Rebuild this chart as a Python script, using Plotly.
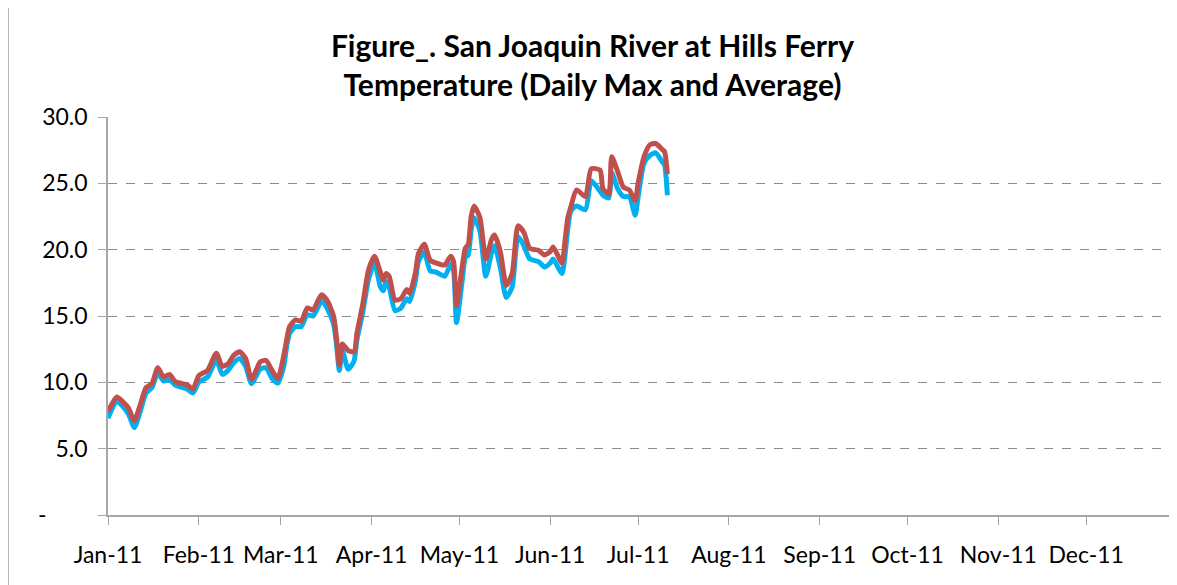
import plotly.graph_objects as go
import datetime as dt

# Day offsets from 2011-01-01, with values (deg C)
max_days = [0, 3, 5, 7, 9, 11, 13, 15, 17, 19, 21, 23, 27, 29, 31, 34, 37, 39, 41, 43, 45, 47, 49, 52, 54, 56, 58,
            60, 61, 62, 64, 66, 68, 70, 72, 73, 75, 77, 78, 79, 80, 82, 84, 85, 87, 89, 91, 93, 94, 95, 96, 98,
            100, 102, 103, 105, 106, 108, 110, 112, 115, 117, 118, 119, 121, 122, 123, 124, 125, 127, 129, 131,
            132, 134, 136, 138, 140, 142, 144, 147, 149, 151, 152, 155, 156, 157, 158, 160, 163, 165, 168, 169,
            171, 172, 174, 176, 178, 180, 181, 183, 185, 187, 189, 190, 191]
daily_max = [7.8, 8.9, 8.55, 8.05, 7.1, 8.3, 9.6, 9.9, 11.1, 10.4, 10.6, 10.05, 9.8, 9.5, 10.5, 10.9, 12.2, 11.2,
             11.4, 12.05, 12.3, 11.8, 10.2, 11.55, 11.65, 10.9, 10.3,
             12.0, 13.2, 14.2, 14.7, 14.6, 15.6, 15.45, 16.3, 16.6, 16.1, 15.0, 13.4, 11.3, 12.9, 12.4, 12.3, 13.7,
             15.9, 18.5, 19.5, 18.3, 17.7, 18.2, 18.0, 16.2,
             16.3, 17.0, 16.7, 18.3, 19.7, 20.4, 19.2, 19.0, 18.85, 19.5, 19.1, 15.8, 18.8, 20.1, 20.4, 22.5, 23.3,
             22.4, 19.3, 20.8,
             21.1, 19.8, 17.3, 18.2, 21.8, 21.3, 20.1, 19.95, 19.6, 19.85, 20.2, 19.0, 20.6, 22.4, 23.2, 24.5,
             24.0, 26.1, 26.0, 24.6,
             24.2, 27.0, 25.9, 24.7, 24.5, 23.7, 25.0, 27.0, 27.9, 28.0, 27.6, 27.4, 25.7]
daily_avg = [7.3, 8.6, 8.2, 7.6, 6.6, 7.8, 9.2, 9.6, 10.7, 10.1, 10.2, 9.8, 9.5, 9.2, 10.0, 10.4, 11.7, 10.6,
             10.9, 11.5, 11.8, 11.2, 9.9, 11.0, 11.1, 10.3, 9.95,
             11.2, 12.7, 13.7, 14.2, 14.2, 15.1, 15.0, 15.8, 16.2, 15.5, 14.4, 12.9, 10.9, 12.4, 11.0, 11.6, 13.2,
             15.3, 17.8, 19.0, 17.2, 16.9, 17.6, 17.2, 15.4,
             15.6, 16.3, 16.1, 17.7, 19.1, 19.8, 18.4, 18.3, 18.0, 18.9, 18.4, 14.5, 17.8, 19.4, 19.6, 21.5, 22.4,
             21.4, 18.0, 19.8,
             20.3, 18.6, 16.4, 17.2, 21.0, 20.3, 19.3, 19.1, 18.7, 19.0, 19.3, 18.2, 19.5, 21.6, 22.9, 23.3,
             23.0, 25.2, 24.4, 24.1,
             23.9, 25.8, 24.6, 24.0, 24.0, 22.6, 24.0, 26.5, 27.1, 27.3, 26.7, 26.4, 24.1]

month_ticks = ["2011-01-01", "2011-02-01", "2011-03-01", "2011-04-01", "2011-05-01", "2011-06-01",
               "2011-07-01", "2011-08-01", "2011-09-01", "2011-10-01", "2011-11-01", "2011-12-01"]
month_labels = ["Jan-11", "Feb-11", "Mar-11", "Apr-11", "May-11", "Jun-11",
                "Jul-11", "Aug-11", "Sep-11", "Oct-11", "Nov-11", "Dec-11"]
y_ticks = [0, 5, 10, 15, 20, 25, 30]
y_labels = ["-" + "\u00a0" * 7, "5.0", "10.0", "15.0", "20.0", "25.0", "30.0"]

start = dt.date(2011, 1, 1)
dates = [start + dt.timedelta(days=d) for d in max_days]

fig = go.Figure()
fig.add_trace(go.Scatter(x=dates, y=daily_avg, mode="lines", name="Daily Average",
                         line=dict(color="#00B0F0", width=5, shape="spline", smoothing=0.6)))
fig.add_trace(go.Scatter(x=dates, y=daily_max, mode="lines", name="Daily Max",
                         line=dict(color="#C0504D", width=5, shape="spline", smoothing=0.6)))

font_family = "Lato, Carlito, Calibri, sans-serif"
fig.update_layout(
    width=1169, height=577,
    paper_bgcolor="white", plot_bgcolor="white",
    margin=dict(l=100, r=0, t=109, b=70),
    showlegend=False,
    title=dict(text="Figure_. San Joaquin River at Hills Ferry<br>Temperature (Daily Max and Average)",
               x=0.5, xref="container", xanchor="center", y=0.915, yref="container", yanchor="middle",
               font=dict(family=font_family, size=30, color="#000000", weight="bold")),
    font=dict(family=font_family, size=23, color="#000000"),
)
fig.update_xaxes(range=["2011-01-01", "2012-01-01"], tickvals=month_ticks, ticktext=month_labels,
                 showgrid=False, showline=True, linecolor="#A6A6A6", linewidth=1.5,
                 ticks="outside", ticklen=8, tickcolor="#A6A6A6", tickwidth=1,
                 ticklabelstandoff=11, zeroline=False)
fig.update_yaxes(range=[0, 30], tickvals=y_ticks, ticktext=y_labels,
                 showgrid=True, gridcolor="#8C8C8C", griddash="dash", gridwidth=1,
                 showline=True, linecolor="#A6A6A6", linewidth=1.5,
                 ticks="outside", ticklen=8, tickcolor="#A6A6A6", ticklabelstandoff=6,
                 zeroline=False)
fig.add_shape(type="line", xref="paper", yref="paper", x0=-0.0935, x1=-0.0935, y0=-0.2, y1=1.3,
              line=dict(color="#A6A6A6", width=1.5))

fig.write_html("out.html")
